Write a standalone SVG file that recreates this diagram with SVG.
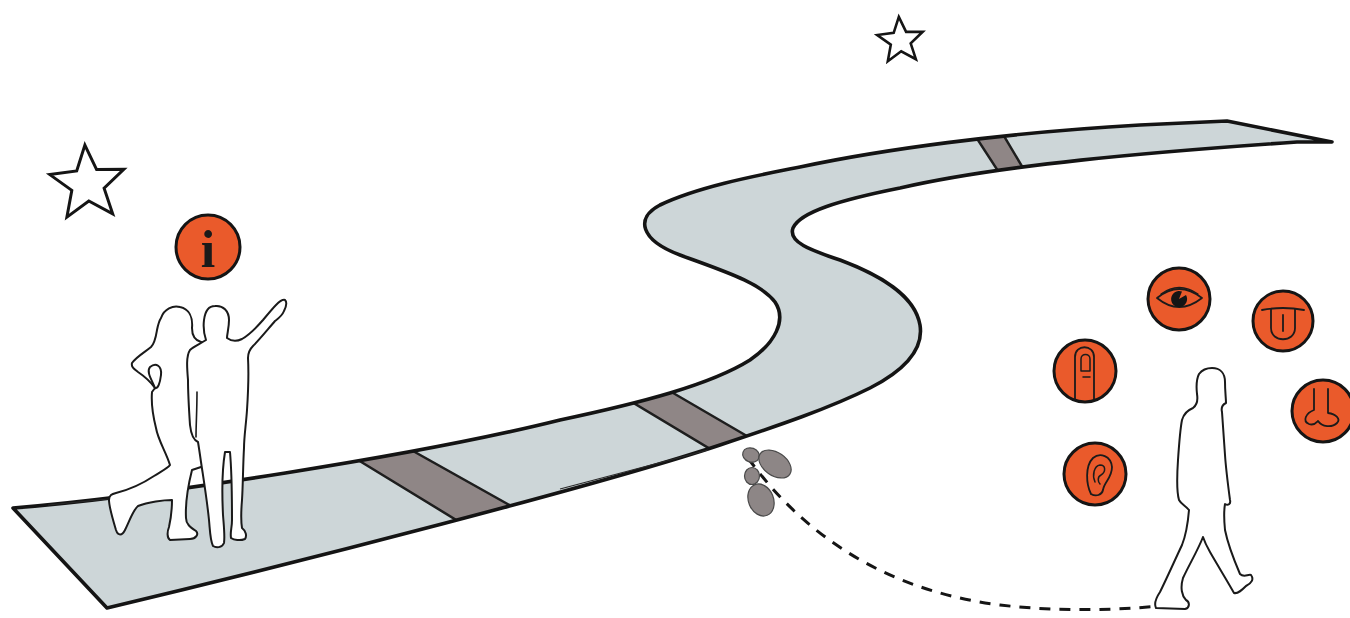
<svg xmlns="http://www.w3.org/2000/svg" width="1350" height="618" viewBox="0 0 1350 618">
  <style>
    .road { fill: #cdd6d8; }
    .edge { fill: none; stroke: #141414; stroke-width: 3.6; stroke-linejoin: round; }
    .thin { fill: none; stroke: #2a2a2a; stroke-width: 1.2; }
    .cross { fill: #8f8686; stroke: #1e1e1e; stroke-width: 2.5; }
    .star { fill: #ffffff; stroke: #151515; stroke-width: 3; stroke-linejoin: miter; }
    .badge { fill: #ea5a2b; stroke: #151515; stroke-width: 3; }
    .glyph { fill: none; stroke: #1b1b1b; stroke-width: 1.8; stroke-linecap: round; stroke-linejoin: round; }
    .figure { fill: #ffffff; stroke: #1a1a1a; stroke-width: 2; stroke-linejoin: round; }
    .shoe { fill: #8d8686; stroke: #4a4a4a; stroke-width: 1.2; }
    .trail { fill: none; stroke: #151515; stroke-width: 3; stroke-dasharray: 11 9; }
  </style>
  <defs>
    <path id="roadShape" d="M13,508 C150,497 420,455 560,420 C640,403 710,385 750,360 C775,343 787,320 775,302 C760,282 720,270 680,255 C640,240 635,218 660,205 C700,186 760,175 800,167 C880,150 1000,133 1140,125 L1227,121 L1332,142 L1297,142 C1150,152 1000,165 900,188 C840,200 800,212 793,228 C788,242 810,250 840,260 C880,275 915,295 920,325 C924,350 905,370 870,388 C830,408 780,425 720,445 C600,485 300,562 107,608 Z"/>
    <clipPath id="roadClip">
      <use href="#roadShape"/>
    </clipPath>
  </defs>

  <rect width="1350" height="618" fill="#ffffff"/>

  <!-- winding walkway -->
  <g id="road">
    <use href="#roadShape" class="road"/>
    <g id="crossings" clip-path="url(#roadClip)">
      <polygon class="cross" points="358,460 413,451 520,511 471,529"/>
      <polygon class="cross" points="632,402 668,390 752,439 717,453"/>
      <polygon class="cross" points="974,134 1001,131 1023,168 998,171"/>
    </g>
    <use href="#roadShape" class="edge"/>
    <path class="thin" d="M48,505 L108,499"/>
    <path class="thin" d="M560,489 C620,473 670,460 708,450"/>
  </g>

  <!-- stars -->
  <g id="star-left">
    <polygon class="star" points="84.9,145.1 96.6,169.6 123.8,169.4 104.1,188.1 112.7,213.9 88.8,201 66.9,217.1 71.8,190.4 49.8,174.6 76.7,171"/>
  </g>
  <g id="star-top">
    <polygon class="star" style="stroke-width:2.6" points="898.8,16.9 906.1,31.9 922.7,31.8 910.7,43.3 915.9,59.2 901.2,51.3 887.8,61.2 890.8,44.7 877.2,35 893.7,32.8"/>
  </g>

  <!-- information badge -->
  <g id="info">
    <circle class="badge" cx="208" cy="247" r="32"/>
    <text x="208" y="267" text-anchor="middle" font-family="Liberation Serif, serif" font-weight="bold" font-size="52" fill="#1a1a1a">i</text>
  </g>

  <!-- couple looking around -->
  <g id="couple">
    <path class="figure" d="M161,318 C164,309 173,305 180,307 C189,309 193,317 192,328 C192,335 194,340 201,342 L216,350 L216,462 L192,470 C189,482 185,500 186,518 C186,524 190,527 196,531 C199,534 196,539 190,539 L170,540 C167,538 167,532 169,527 C171,518 172,508 172,500 C164,500 148,502 138,506 C133,510 130,520 125,530 C122,536 118,536 116,530 C113,520 109,507 109,500 C109,495 112,494 116,493 C128,490 142,484 154,476 C162,471 168,468 170,465 C166,452 158,440 156,428 C153,416 151,404 152,392 L155,388 C150,381 144,376 138,372 C134,369 131,367 132,363 C136,357 145,352 151,347 C155,343 156,336 157,330 C158,325 159,321 161,318 Z"/>
    <path class="figure" d="M150,367 C156,362 162,366 161,375 C160,383 158,389 155,388 C152,380 146,372 150,367 Z"/>
    <path class="figure" d="M215,306 C223,305 229,311 229,320 C229,328 227,334 227,338 C231,341 236,342 242,339 C249,335 256,328 263,320 C268,314 273,308 276,305 C279,302 282,299 285,300 C287,302 286,307 284,311 C282,316 279,318 275,321 C268,329 260,339 253,346 C250,349 248,352 248,358 C249,376 248,395 247,410 C246,425 244,437 244,448 C243,465 243,485 242,500 C241,512 241,522 242,528 C246,531 247,536 245,539 C240,541 234,540 231,538 C230,532 232,528 232,520 C232,500 232,475 230,452 L225,452 C222,470 222,495 223,515 C224,528 225,536 224,543 C222,548 216,548 213,546 C210,540 210,530 209,520 C207,500 204,482 201,462 C200,455 199,448 198,442 C193,440 191,434 190,425 C189,410 188,395 188,380 C187,368 186,356 190,350 C194,346 200,344 206,340 C204,334 203,328 204,320 C205,312 208,306 215,306 Z"/>
    <path class="glyph" style="stroke-width:1.6" d="M197,392 C197,410 196,425 196,437"/>
  </g>

  <!-- dashed walking trail -->
  <g id="connectors">
    <path class="trail" d="M748,458 C800,530 880,590 1000,605 C1060,612 1120,610 1158,606"/>
  </g>

  <!-- footprints -->
  <g id="footprints">
    <ellipse class="shoe" cx="751" cy="455" rx="8.5" ry="7" transform="rotate(20 751 455)"/>
    <ellipse class="shoe" cx="775" cy="464" rx="18" ry="11.5" transform="rotate(35 775 464)"/>
    <ellipse class="shoe" cx="752" cy="476" rx="7.5" ry="8.5"/>
    <ellipse class="shoe" cx="761" cy="500" rx="12.5" ry="16.5" transform="rotate(-22 761 500)"/>
  </g>

  <!-- senses -->
  <g id="sense-sight">
    <circle class="badge" cx="1179" cy="299" r="31"/>
    <path class="glyph" d="M1157,298 Q1179,280 1202,298 Q1179,316 1157,298 Z"/>
    <path class="glyph" style="stroke-width:1.3" d="M1161,294 Q1179,281 1198,294"/>
    <path d="M1179,299 L1186,295 A8,8 0 1 1 1182,291.6 Z" fill="#151515"/>
  </g>
  <g id="sense-taste">
    <circle class="badge" cx="1283" cy="321" r="30"/>
    <path class="glyph" d="M1262,310 Q1283,306 1304,310"/>
    <path class="glyph" d="M1271,309 L1271,328 C1271,343 1295,343 1295,328 L1295,309"/>
    <path class="glyph" d="M1283,315 L1283,331"/>
  </g>
  <g id="sense-touch">
    <circle class="badge" cx="1085" cy="371" r="31"/>
    <path class="glyph" d="M1075,399 L1075,357 C1075,344 1094,344 1094,357 L1094,399"/>
    <path class="glyph" style="stroke-width:1.5" d="M1081,371 L1081,359 C1081,353 1090,353 1090,359 L1090,371 Z"/>
    <path class="glyph" style="stroke-width:1.5" d="M1083,377 L1090,377"/>
  </g>
  <g id="sense-smell">
    <circle class="badge" cx="1323" cy="411" r="31"/>
    <path class="glyph" d="M1314,389 L1314,410 C1306,413 1302,421 1309,424 C1314,426 1317,422 1318,421 C1322,427 1332,428 1337,423 C1341,419 1336,414 1328,413 L1328,389"/>
  </g>
  <g id="sense-hearing">
    <circle class="badge" cx="1095" cy="474" r="31"/>
    <path class="glyph" d="M1091,494 C1086,484 1085,466 1093,458 C1100,452 1111,456 1112,467 C1112,478 1104,482 1103,490 C1102,495 1096,497 1091,494"/>
    <path class="glyph" style="stroke-width:1.5" d="M1095,482 C1092,475 1094,466 1100,465 C1106,465 1106,472 1101,475 C1097,477 1098,482 1100,484"/>
  </g>

  <!-- walking visitor -->
  <g id="walker">
    <path class="figure" d="M1212,368 C1220,368 1225,373 1225,382 C1225,392 1226,398 1226,403 C1222,405 1221,408 1222,412 C1223,425 1224,440 1225,455 C1226,470 1228,485 1230,500 C1231,504 1228,506 1225,504 C1224,510 1224,520 1225,530 C1228,545 1234,560 1240,574 C1244,578 1248,574 1251,575 C1254,579 1252,583 1246,586 C1242,590 1238,594 1234,593 C1228,582 1218,566 1210,552 C1206,545 1204,540 1203,537 C1198,550 1190,563 1183,578 C1180,588 1182,596 1186,600 C1190,602 1190,608 1185,609 L1156,608 C1154,604 1156,598 1160,592 C1166,580 1174,562 1182,545 C1186,535 1188,522 1189,510 C1186,506 1181,504 1179,500 C1176,490 1177,475 1178,460 C1179,445 1180,430 1182,420 C1184,413 1188,410 1193,408 C1197,405 1198,400 1197,394 C1196,385 1197,378 1199,374 C1202,370 1207,368 1212,368 Z"/>
  </g>
</svg>
